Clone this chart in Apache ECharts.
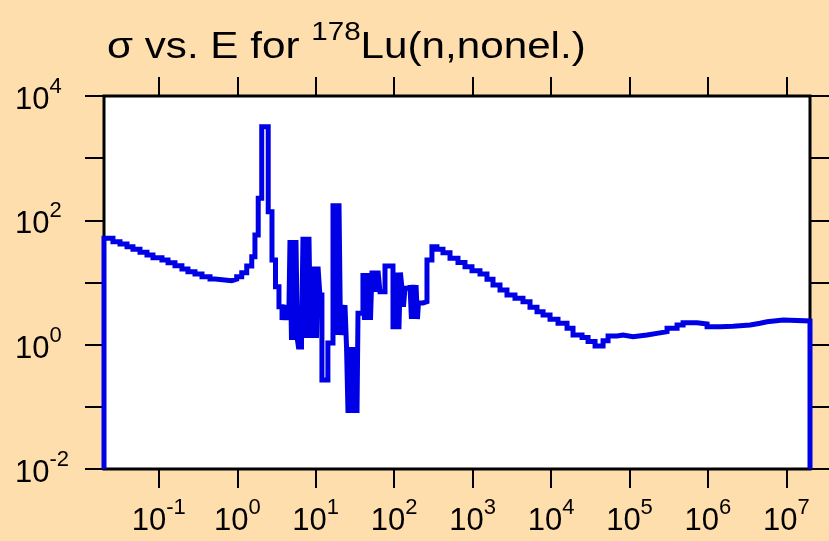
<!DOCTYPE html>
<html><head><meta charset="utf-8">
<script src="https://cdn.jsdelivr.net/npm/echarts@6/dist/echarts.min.js"></script>
<style>html,body{margin:0;padding:0;background:#FFDEAD}#c{width:829px;height:541px}</style>
</head><body><div id="c"></div>
<script>
// Energy (eV) and cross section (b), histogram steps
const energy = [0.02, 0.02, 0.026, 0.032, 0.0393, 0.0468, 0.0575, 0.0706, 0.0842, 0.1096, 0.131, 0.1607, 0.197, 0.235, 0.289, 0.355, 0.449, 0.52, 0.849, 0.983, 1.14, 1.32, 1.53, 1.68, 1.85, 2.05, 2.48, 2.77, 3.07, 3.40,
  3.72, 3.88, 4.06, 4.24, 4.43, 4.56,
  4.70, 4.91, 5.13, 5.36, 5.60, 5.85,
  6.03, 6.59,
  6.88, 7.19, 7.51, 7.85, 8.20, 8.58,
  8.96, 9.36, 9.79, 10.23, 10.69,
  11.3, 12.0, 14.3,
  16.6, 17.35, 18.13, 18.94, 19.8, 20.7,
  21.6, 22.6, 23.6,
  24.7, 25.8, 26.9, 28.2, 29.4, 30.7, 32.1, 33.6, 34.6,
  40.0, 41.8, 43.7, 45.7, 47.8, 49.9,
  52.2, 54.5, 56.9, 59.5, 62.2, 65.9,
  76.4,
  96.6, 101, 105.5, 110, 115, 120,
  125.8, 131.4, 137.3,
  159, 166, 174, 182, 190, 198, 204,
  233, 262, 303,
  351, 419, 515, 651, 800, 982, 1242, 1525, 1820, 2235, 2743, 3469, 4386, 5392, 6622, 7906, 9706, 12270, 15990, 19060, 24840, 29630, 36390, 46030, 53300, 69400, 82800, 111000, 167000, 224000, 301000, 404000, 482000, 727000, 975000, 1.43e6, 2.09e6, 3.45e6, 4.62e6, 5.68e6, 9.08e6, 2e7];
const sigma = [0.01, 51.4, 45.3, 41.6, 37.7, 34.2, 30.6, 27.7, 25.1, 23.0, 20.8, 18.6, 16.5, 14.9, 13.7, 12.4, 11.4, 10.7, 11.3, 12.4, 14.4, 18.4, 26.0, 58.1, 226, 3210, 138, 23.0, 8.57, 4.08,
  2.49, 4.35, 2.49, 4.35, 2.49, 4.35,
  48.3, 1.19, 48.3, 1.19, 48.3, 1.19,
  0.918, 1.28,
  54.6, 1.28, 54.6, 1.28, 54.6, 1.28,
  18.0, 1.28, 18.0, 1.28, 18.0,
  6.30, 0.270, 1.06,
  188, 1.43, 188, 1.43, 188, 1.43,
  4.35, 1.43, 4.35,
  0.918, 0.0796, 0.918, 0.0796, 0.918, 0.0796, 0.918, 0.0796, 3.20,
  14.2, 2.49, 14.2, 2.49, 14.2, 2.49,
  15.5, 7.11, 15.5, 7.11, 15.5, 7.11,
  18.4,
  1.77, 14.5, 1.77, 14.5, 1.77, 14.5,
  8.07, 4.08, 8.07,
  9.12, 2.59, 9.12, 2.59, 9.12, 2.59, 4.68,
  4.91, 23.0, 37.7,
  34.2, 30.2, 24.5, 21.0, 18.0, 15.5, 13.7, 11.3, 9.12, 7.58, 6.30, 5.57, 4.91, 3.99, 3.39, 3.00, 2.56, 2.21, 1.83, 1.43, 1.31, 1.12, 0.953, 1.16, 1.38, 1.43, 1.34, 1.43, 1.52, 1.62, 1.83, 2.07, 2.26, 2.15, 1.95, 1.98, 2.07, 2.21, 2.34, 2.49, 2.40, 0.01];

const xTickValues = [0.1, 1, 10, 100, 1e3, 1e4, 1e5, 1e6, 1e7];
const yTickValues = [0.01, 0.1, 1, 10, 100, 1e3, 1e4];
const yLabelValues = [0.01, 1, 100, 1e4];
const xMin = 0.02, xMax = 2e7, yMin = 0.01, yMax = 1e4;
const titleMain = 'σ vs. E for ';
const titleSup = '178';
const titleRest = 'Lu(n,nonel.)';

const FONT = 'Liberation Sans';
const chart = echarts.init(document.getElementById('c'), null, {renderer: 'canvas'});
const expFmt = v => {
  const e = Math.round(Math.log10(v));
  return '{b|10}{s|' + e + '}';
};
const labelRich = {
  b: {fontFamily: FONT, fontSize: 31, color: '#000', verticalAlign: 'bottom', lineHeight: 40},
  s: {fontFamily: FONT, fontSize: 22, color: '#000', verticalAlign: 'top', lineHeight: 22, padding: [0, 0, 10, 0]}
};
const tickStyle = {show: true, inside: false, length: 19, lineStyle: {color: '#000', width: 2}};

const xBase = {
  type: 'log', logBase: 10, min: xMin, max: xMax,
  axisLine: {show: false}, splitLine: {show: false},
};
const yBase = {
  type: 'log', logBase: 10, min: yMin, max: yMax,
  axisLine: {show: false}, splitLine: {show: false},
};

chart.setOption({
  animation: false,
  backgroundColor: '#FFDEAD',
  graphic: [{
    type: 'text', x: 107, y: 20, scaleX: 1.14, scaleY: 1,
    style: {
      text: '{a|' + titleMain + '}{s|' + titleSup + '}{a|' + titleRest + '}',
      align: 'left', verticalAlign: 'top',
      rich: {
        a: {fontFamily: FONT, fontSize: 37, fontWeight: 'normal', fill: '#000', verticalAlign: 'bottom', lineHeight: 46},
        s: {fontFamily: FONT, fontSize: 26, fontWeight: 'normal', fill: '#000', verticalAlign: 'top', lineHeight: 26, padding: [0, 0, 16, 0]}
      }
    }
  }],
  grid: {left: 104, top: 96, width: 706, height: 373, show: true, backgroundColor: '#fff', borderColor: '#000', borderWidth: 3},
  xAxis: [
    Object.assign({}, xBase, {
      position: 'bottom',
      axisTick: Object.assign({customValues: xTickValues}, tickStyle),
      axisLabel: {customValues: xTickValues, formatter: expFmt, rich: labelRich, margin: 28}
    }),
    Object.assign({}, xBase, {
      position: 'top',
      axisTick: Object.assign({customValues: xTickValues}, tickStyle),
      axisLabel: {show: false}
    })
  ],
  yAxis: [
    Object.assign({}, yBase, {
      position: 'left',
      axisTick: Object.assign({customValues: yTickValues}, tickStyle),
      axisLabel: {customValues: yLabelValues, formatter: expFmt, rich: labelRich, margin: 89, align: 'left'}
    }),
    Object.assign({}, yBase, {
      position: 'right',
      axisTick: Object.assign({customValues: yTickValues}, tickStyle),
      axisLabel: {show: false}
    })
  ],
  series: [{
    type: 'line', step: 'end', xAxisIndex: 0, yAxisIndex: 0,
    showSymbol: false, symbol: 'none', clip: true,
    lineStyle: {color: '#0000E6', width: 5, join: 'miter', cap: 'butt'},
    data: energy.map((e, i) => [e, sigma[i]])
  }]
});
</script></body></html>
